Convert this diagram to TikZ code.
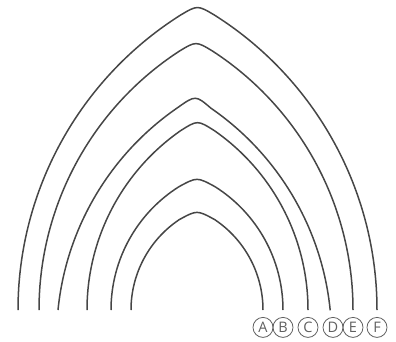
\documentclass[tikz,border=0pt]{standalone}
\usepackage{fontspec}
\setsansfont{Open Sans}
\usepackage{tikz}
\usetikzlibrary{positioning}
\definecolor{archgrey}{RGB}{70,70,70}
\definecolor{labelgrey}{RGB}{95,95,95}

\begin{document}
\begin{tikzpicture}[
    x=10pt, y=10pt,
    archline/.style={draw=archgrey, line width=1.5pt},
    letter/.style={circle, draw=labelgrey, line width=0.8pt, text=labelgrey,
        minimum size=20pt, inner sep=0pt, font=\sffamily\fontsize{14.5}{14.5}\selectfont}
]
    \useasboundingbox (0,-3.1) rectangle (39.6,31);
    % arches: label / axis / half span / apex / height of arc centres
    \foreach \lbl/\cx/\w/\h/\b in {A/19.7/6.6/10/0, B/19.7/8.6/13.3/0,
        C/19.75/11.05/19/0, D/19.55/13.75/21.5/-2.8,
        E/19.6/15.7/26.9/0, F/19.75/17.95/30.5/0} {
        \pgfmathsetmacro\a{(\h*\h-2*\h*\b-\w*\w)/(2*\w)}
        \pgfmathsetmacro\R{sqrt((\w+\a)^2+\b^2)}
        \pgfmathsetmacro\tf{180+atan(\b/(\w+\a))}
        \pgfmathsetmacro\ta{180-atan((\h-\b)/\a)+2/\R*180/pi}
        \pgfmathsetmacro\ex{\a+\R*cos(\ta)}
        \pgfmathsetmacro\ey{\b+\R*sin(\ta)}
        \draw[archline] ({\cx-\w},0) arc[start angle=\tf, end angle=\ta, radius=\R]
            .. controls (\cx,\h) .. ({\cx-(\ex)},\ey)
            arc[start angle={180-\ta}, end angle={180-\tf}, radius=\R];
        \coordinate (foot\lbl) at ({\cx+\w},0);
        \node[letter, below=7pt of foot\lbl] (lab\lbl) {\lbl};
    }
\end{tikzpicture}
\end{document}
